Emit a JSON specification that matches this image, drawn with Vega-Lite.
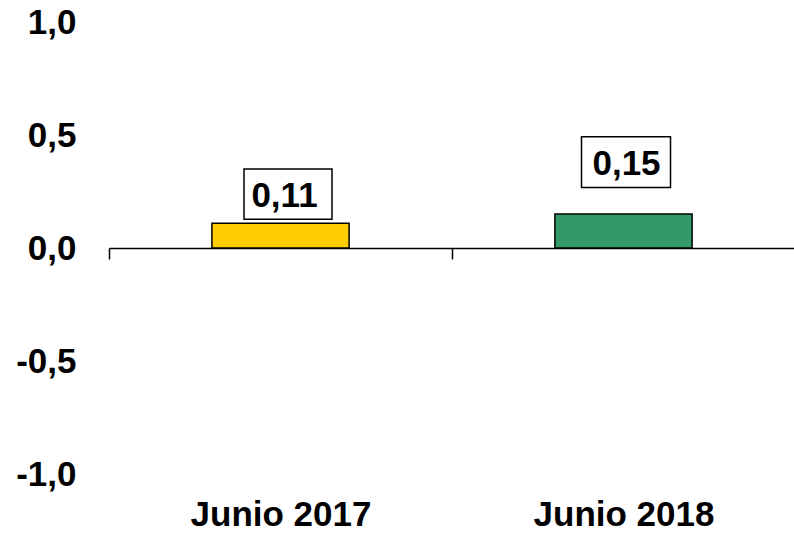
{
  "$schema": "https://vega.github.io/schema/vega-lite/v6.json",
  "autosize": "none",
  "width": 686,
  "height": 452,
  "padding": {"left": 109, "top": 22, "right": 0, "bottom": 64},
  "background": "white",
  "config": {
    "view": {"stroke": null},
    "font": "Liberation Sans",
    "locale": {"number": {"decimal": ",", "thousands": ".", "grouping": [3], "currency": ["", " €"], "minus": "-"}}
  },
  "data": {"values": [
    {"periodo": "Junio 2017", "valor": 0.11},
    {"periodo": "Junio 2018", "valor": 0.15}
  ]},
  "encoding": {
    "x": {
      "field": "periodo", "type": "nominal", "sort": null,
      "scale": {"paddingInner": 0, "paddingOuter": 0},
      "axis": {
        "title": null, "orient": "bottom", "offset": -226,
        "domain": true, "domainColor": "black", "domainWidth": 1.5,
        "ticks": true, "tickBand": "extent", "tickSize": 11, "tickColor": "black", "tickWidth": 1.5,
        "labelAngle": 0, "labelFont": "Liberation Sans", "labelFontSize": 35, "labelFontWeight": "bold",
        "labelColor": "black", "labelPadding": 238, "labelLimit": 0, "grid": false
      }
    },
    "y": {
      "field": "valor", "type": "quantitative",
      "scale": {"domain": [-1, 1], "nice": false, "zero": false},
      "axis": {
        "title": null, "values": [-1, -0.5, 0, 0.5, 1], "format": ".1f",
        "domain": false, "ticks": false, "tickSize": 0, "grid": false,
        "labelFont": "Liberation Sans", "labelFontSize": 35, "labelFontWeight": "bold",
        "labelColor": "black", "labelPadding": 33
      }
    }
  },
  "layer": [
    {
      "mark": {"type": "bar", "stroke": "black", "strokeWidth": 1.5, "width": {"band": 0.4}},
      "encoding": {
        "color": {"field": "periodo", "type": "nominal", "legend": null,
          "scale": {"domain": ["Junio 2017", "Junio 2018"], "range": ["#FFCC00", "#339966"]}}
      }
    },
    {
      "transform": [{"filter": "datum.periodo === 'Junio 2017'"}],
      "mark": {"type": "point", "shape": "M-1,-0.57L1,-0.57L1,0.57L-1,0.57Z", "size": 7744,
        "filled": true, "fill": "white", "stroke": "black", "strokeWidth": 1.5, "opacity": 1,
        "xOffset": 7.5, "yOffset": -29}
    },
    {
      "transform": [{"filter": "datum.periodo === 'Junio 2017'"}],
      "mark": {"type": "text", "font": "Liberation Sans", "fontSize": 35, "fontWeight": "bold",
        "color": "black", "baseline": "middle", "align": "center", "xOffset": 4, "yOffset": -29, "dy": 2},
      "encoding": {"text": {"field": "valor", "type": "quantitative", "format": ".2f"}}
    },
    {
      "transform": [{"filter": "datum.periodo === 'Junio 2018'"}],
      "mark": {"type": "point", "shape": "M-1,-0.57L1,-0.57L1,0.57L-1,0.57Z", "size": 7921,
        "filled": true, "fill": "white", "stroke": "black", "strokeWidth": 1.5, "opacity": 1,
        "xOffset": 2.5, "yOffset": -52}
    },
    {
      "transform": [{"filter": "datum.periodo === 'Junio 2018'"}],
      "mark": {"type": "text", "font": "Liberation Sans", "fontSize": 35, "fontWeight": "bold",
        "color": "black", "baseline": "middle", "align": "center", "xOffset": 3, "yOffset": -52, "dy": 2},
      "encoding": {"text": {"field": "valor", "type": "quantitative", "format": ".2f"}}
    }
  ]
}
